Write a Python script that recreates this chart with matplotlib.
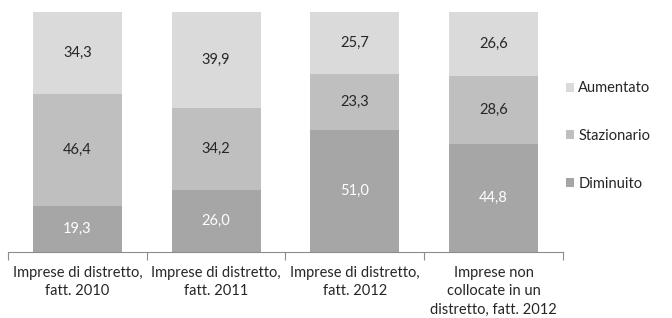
import matplotlib.pyplot as plt
import numpy as np

plt.rcParams['font.family'] = ['Lato', 'DejaVu Sans']

categories = ['Imprese di distretto,\nfatt. 2010',
              'Imprese di distretto,\nfatt. 2011',
              'Imprese di distretto,\nfatt. 2012',
              'Imprese non\ncollocate in un\ndistretto, fatt. 2012']
diminuito = [19.3, 26.0, 51.0, 44.8]
stazionario = [46.4, 34.2, 23.3, 28.6]
aumentato = [34.3, 39.9, 25.7, 26.6]

series = [('Diminuito', diminuito, '#a6a6a6', 'white'),
          ('Stazionario', stazionario, '#bfbfbf', '#262626'),
          ('Aumentato', aumentato, '#dadada', '#262626')]

fig = plt.figure(figsize=(6.72, 3.18), dpi=100)
ax = fig.add_axes([8/672, 1-252/318, (563-8)/672, 240/318])

x = np.arange(len(categories))
bottom = np.zeros(len(categories))
handles = []
for name, vals, col, tcol in series:
    vals = np.array(vals)
    b = ax.bar(x, vals, 0.64, bottom=bottom, color=col, label=name)
    handles.append(b)
    for xi, v, bt in zip(x, vals, bottom):
        ax.text(xi, bt + v/2, f'{v:.1f}'.replace('.', ','), ha='center', va='center',
                fontsize=10.5, color=tcol)
    bottom += vals

ax.set_xlim(-0.5, len(categories) - 0.5)
ax.set_ylim(0, 100)
for s in ['top', 'right', 'left']:
    ax.spines[s].set_visible(False)
ax.spines['bottom'].set_color('#8c8c8c')
ax.set_yticks([])
ax.set_xticks(np.arange(len(categories) + 1) - 0.5)
ax.set_xticklabels([])
ax.tick_params(axis='x', which='major', length=6, color='#8c8c8c')
ax.set_xticks(x, minor=True)
ax.set_xticklabels(categories, minor=True, fontsize=10.5, color='#262626', linespacing=1.4)
ax.tick_params(axis='x', which='minor', length=0, pad=10)

leg = fig.legend(handles[::-1], [h.get_label() for h in handles[::-1]],
                 loc='center left', bbox_to_anchor=(566/672, 1-136/318),
                 frameon=False, fontsize=10.5, handlelength=0.55, handleheight=0.55,
                 handletextpad=0.3, labelspacing=2.3, borderpad=0, borderaxespad=0)
for t in leg.get_texts():
    t.set_color('#262626')

fig.savefig('out.png', dpi=100)
